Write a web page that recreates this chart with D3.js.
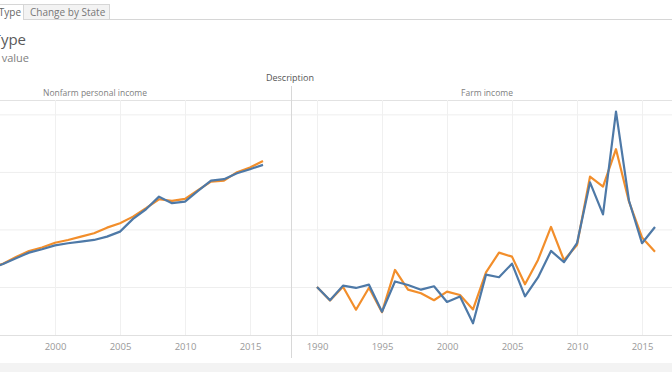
<!DOCTYPE html>
<html lang="en">
<head>
    <meta charset="utf-8">
    <title>Personal Income by Type</title>
    <style type="text/css">
        body { margin: 0; background: #fff; }
        .svg_income { display: block; font-family: "Open Sans", "DejaVu Sans", sans-serif; }
    </style>
</head>
<body>
<svg class="svg_income" width="672" height="372"></svg>

<script src="https://d3js.org/d3.v7.min.js"></script>
<script>
    // data (percent of 1990 value)
    var years = [1990, 1991, 1992, 1993, 1994, 1995, 1996, 1997, 1998, 1999,
                 2000, 2001, 2002, 2003, 2004, 2005, 2006, 2007, 2008, 2009,
                 2010, 2011, 2012, 2013, 2014, 2015, 2016];
    var descriptions = ['Nonfarm personal income', 'Farm income'];
    var yearTicks = [1990, 1995, 2000, 2005, 2010, 2015];
    var valueTicks = [100, 200, 300, 400];

    var nonfarmUS    = [100, 105.5, 111, 117, 124, 131.5, 140, 149.9, 159.7, 165.6,
                        172.2, 176, 178.8, 181.7, 187.5, 196.2, 218.3, 235.1, 257, 245.6,
                        248.3, 267, 284.9, 287.3, 297.7, 304.7, 312.2];
    var nonfarmState = [100, 106, 112, 118, 125, 132, 140.5, 152.2, 162.6, 168.7,
                        176.9, 181.7, 187.5, 193.4, 203.1, 210.8, 222.3, 236.9, 252.5, 249.6,
                        253, 268.2, 283.1, 284.9, 299.5, 307.5, 319.1];
    var farmUS       = [100, 76.9, 102.3, 98.3, 104, 57, 109.6, 103.5, 95.3, 101.2,
                        73.9, 83.5, 36.9, 121.4, 116.9, 140.5, 83.8, 116.5, 162.6, 143.1,
                        176, 281.7, 226.1, 404.9, 249.9, 176, 204.3];
    var farmState    = [100, 76.5, 100.5, 60.5, 98.6, 56.2, 129.6, 95.3, 89, 76.9,
                        91.8, 86.1, 60.9, 125.2, 159.7, 152.7, 104.7, 147, 204.3, 146.4,
                        173, 291.8, 274.4, 339.5, 248.3, 186.1, 161.4];

    // each pane: orange series first, blue drawn on top
    var panes = [
        {key: descriptions[0], series: [{name: 'State', values: nonfarmState}, {name: 'US', values: nonfarmUS}]},
        {key: descriptions[1], series: [{name: 'State', values: farmState}, {name: 'US', values: farmUS}]}
    ];
    var color = d3.scaleOrdinal().domain(['State', 'US']).range(['#f28e2b', '#4e79a7']);

    var svg = d3.select('.svg_income'),
        width = +svg.attr('width'),
        height = +svg.attr('height'),
        plotTop = 100,
        plotBottom = 335;

    // scales
    var pane = d3.scaleBand().domain(descriptions).range([-101, 683]);
    var x = d3.scaleLinear().domain([1990, 2016]).range([26, 364]);
    var y = d3.scaleLinear().domain([16.5, 425]).range([plotBottom, plotTop]);

    // tab strip
    svg.append('path')
        .attr('d', 'M-10,4.5H23.5V19.5H672')
        .attr('fill', 'none')
        .attr('stroke', '#d6d6d6');
    svg.append('rect')
        .attr('x', 23.5).attr('y', 4.5)
        .attr('width', 86).attr('height', 15)
        .attr('fill', '#f3f3f3')
        .attr('stroke', '#d6d6d6');
    svg.append('text')
        .attr('x', 21).attr('y', 15.5)
        .attr('text-anchor', 'end')
        .attr('font-size', 10).attr('fill', '#666')
        .text('Income by Type');
    svg.append('text')
        .attr('x', 30).attr('y', 15.5)
        .attr('font-size', 10).attr('fill', '#777')
        .text('Change by State');

    // title
    svg.append('text')
        .attr('x', 26).attr('y', 45)
        .attr('text-anchor', 'end')
        .attr('font-size', 15).attr('fill', '#5a5a5a')
        .text('Personal Income by Type');
    svg.append('text')
        .attr('x', 29).attr('y', 61.5)
        .attr('text-anchor', 'end')
        .attr('font-size', 11).attr('fill', '#808080')
        .text('Percent of 1990 value');

    // headers
    svg.append('text')
        .attr('x', 290).attr('y', 81)
        .attr('text-anchor', 'middle')
        .attr('font-size', 9).attr('fill', '#555')
        .text('Description');

    svg.selectAll('.col_header')
        .data(descriptions)
        .enter()
        .append('text')
        .attr('class', 'col_header')
        .attr('x', function(d) { return pane(d) + pane.bandwidth() / 2; })
        .attr('y', 95.5)
        .attr('text-anchor', 'middle')
        .attr('font-size', 8.5).attr('fill', '#808080')
        .text(function(d) { return d; });

    svg.append('line')
        .attr('x1', 0).attr('x2', width)
        .attr('y1', 100.5).attr('y2', 100.5)
        .attr('stroke', '#e2e2e2');

    // horizontal grid
    var gy = svg.append('g')
        .call(d3.axisLeft(y).tickValues(valueTicks).tickSize(-width).tickFormat(''));
    gy.select('.domain').remove();
    gy.selectAll('line').attr('stroke', '#eeeeee');

    // panes
    var g = svg.selectAll('.pane')
        .data(panes)
        .enter()
        .append('g')
        .attr('class', 'pane')
        .attr('transform', function(d) { return 'translate(' + pane(d.key) + ',0)'; });

    // vertical grid + year labels
    g.each(function(p) {
        var gx = d3.select(this).append('g')
            .attr('transform', 'translate(0,' + plotBottom + ')')
            .call(d3.axisBottom(x).tickValues(yearTicks).tickFormat(d3.format('d'))
                .tickSize(-(plotBottom - plotTop)).tickPadding(8));
        gx.select('.domain').remove();
        gx.selectAll('line').attr('stroke', '#f0f0f0');
        gx.selectAll('text')
            .attr('y', 8)
            .attr('font-family', '"Open Sans", sans-serif')
            .attr('font-size', 9.5).attr('fill', '#999');
        // labels that fall past the left edge of the view are clipped away
        gx.selectAll('.tick')
            .filter(function(t) { return pane(p.key) + x(t) - 11 < 0; })
            .select('text').remove();
    });

    // pane bottom line
    svg.append('line')
        .attr('x1', 0).attr('x2', width)
        .attr('y1', plotBottom + 0.5).attr('y2', plotBottom + 0.5)
        .attr('stroke', '#e0e0e0');

    // divider between panes
    svg.append('line')
        .attr('x1', pane(descriptions[1]) + 0.5).attr('x2', pane(descriptions[1]) + 0.5)
        .attr('y1', 86).attr('y2', 358)
        .attr('stroke', '#d8d8d8');

    // lines
    var line = d3.line()
        .x(function(d, i) { return x(years[i]); })
        .y(function(d) { return y(d); });

    g.selectAll('.series')
        .data(function(d) { return d.series; })
        .enter()
        .append('path')
        .attr('class', 'series')
        .attr('d', function(d) { return line(d.values); })
        .attr('fill', 'none')
        .attr('stroke', function(d) { return color(d.name); })
        .attr('stroke-width', 2.2)
        .attr('stroke-linejoin', 'round');

    // bottom band
    svg.append('rect')
        .attr('x', 0).attr('y', 363)
        .attr('width', width).attr('height', height - 363)
        .attr('fill', '#f3f3f3');
</script>
</body>
</html>
